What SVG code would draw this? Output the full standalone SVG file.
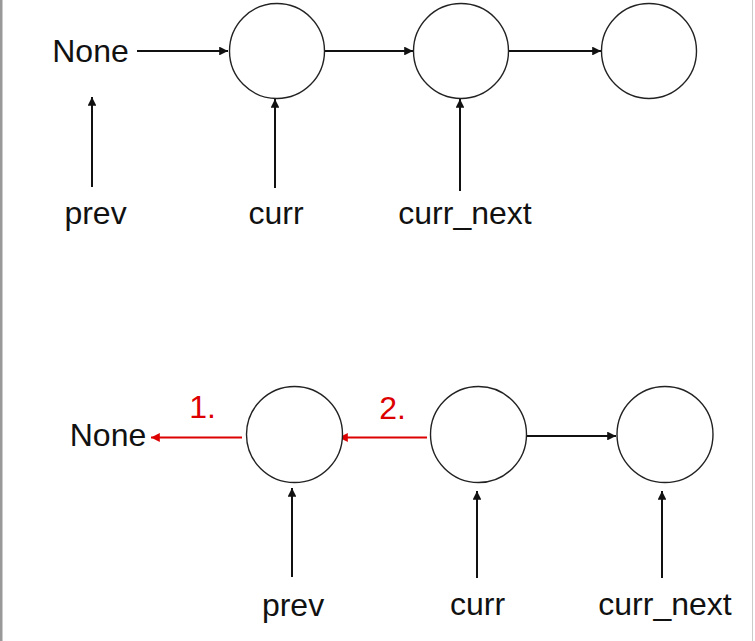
<svg xmlns="http://www.w3.org/2000/svg" width="755" height="641" viewBox="0 0 755 641">
<style>
.n{fill:#fff;stroke:#222;stroke-width:1.4}
.t{font-family:"Liberation Sans",Arial,sans-serif;font-size:32px;fill:#111}
.r{fill:#dd0000}
.c{stroke:#111;stroke-width:2;fill:none}
.cr{stroke:#dd0000;stroke-width:2;fill:none}
</style>
<defs>
<marker id="ab" viewBox="0 0 10 10" refX="10" refY="5" markerWidth="5" markerHeight="4.4" orient="auto" markerUnits="strokeWidth"><path d="M0,0L10,5L0,10z" fill="#111"/></marker>
<marker id="ar" viewBox="0 0 10 10" refX="10" refY="5" markerWidth="5" markerHeight="4.4" orient="auto" markerUnits="strokeWidth"><path d="M0,0L10,5L0,10z" fill="#dd0000"/></marker>
</defs>
<rect x="0" y="0" width="755" height="641" fill="#fff"/>
<rect x="0" y="0" width="2.5" height="641" fill="#999"/>
<rect x="752" y="0" width="1" height="641" fill="#ccc"/>
<g id="connectors">
<line class="c" x1="137" y1="51" x2="228" y2="51" marker-end="url(#ab)"/>
<line class="c" x1="325" y1="51" x2="413" y2="51" marker-end="url(#ab)"/>
<line class="c" x1="508" y1="51" x2="601" y2="51" marker-end="url(#ab)"/>
<line class="c" x1="92" y1="187" x2="92" y2="97" marker-end="url(#ab)"/>
<line class="c" x1="275" y1="188" x2="275" y2="99" marker-end="url(#ab)"/>
<line class="c" x1="460" y1="191" x2="460" y2="99" marker-end="url(#ab)"/>
<line class="cr" x1="242" y1="437.5" x2="151" y2="437.5" marker-end="url(#ar)"/>
<line class="cr" x1="427" y1="437.5" x2="339" y2="437.5" marker-end="url(#ar)"/>
<line class="c" x1="527" y1="436" x2="616" y2="436" marker-end="url(#ab)"/>
<line class="c" x1="292" y1="577" x2="292" y2="488" marker-end="url(#ab)"/>
<line class="c" x1="477" y1="578" x2="477" y2="491" marker-end="url(#ab)"/>
<line class="c" x1="662" y1="578" x2="662" y2="491" marker-end="url(#ab)"/>
</g>
<g id="node-none1"><text class="t" x="90.5" y="62" text-anchor="middle">None</text></g>
<g id="node-a1"><circle class="n" cx="277" cy="51" r="47.5"/></g>
<g id="node-b1"><circle class="n" cx="461" cy="51" r="47.5"/></g>
<g id="node-c1"><circle class="n" cx="649" cy="51" r="47.5"/></g>
<g id="label-prev1"><text class="t" x="95.5" y="224" text-anchor="middle">prev</text></g>
<g id="label-curr1"><text class="t" x="276" y="224" text-anchor="middle">curr</text></g>
<g id="label-next1"><text class="t" x="465" y="224" text-anchor="middle">curr_next</text></g>
<g id="node-none2"><text class="t" x="108" y="446" text-anchor="middle">None</text></g>
<g id="node-a2"><circle class="n" cx="294.5" cy="434.5" r="48"/></g>
<g id="node-b2"><circle class="n" cx="478.5" cy="434.5" r="48"/></g>
<g id="node-c2"><circle class="n" cx="665" cy="434.5" r="48"/></g>
<g id="label-1"><text class="t r" x="202.5" y="418" text-anchor="middle">1.</text></g>
<g id="label-2"><text class="t r" x="392.5" y="419" text-anchor="middle">2.</text></g>
<g id="label-prev2"><text class="t" x="293" y="616" text-anchor="middle">prev</text></g>
<g id="label-curr2"><text class="t" x="477.5" y="615" text-anchor="middle">curr</text></g>
<g id="label-next2"><text class="t" x="665" y="615" text-anchor="middle">curr_next</text></g>
</svg>
